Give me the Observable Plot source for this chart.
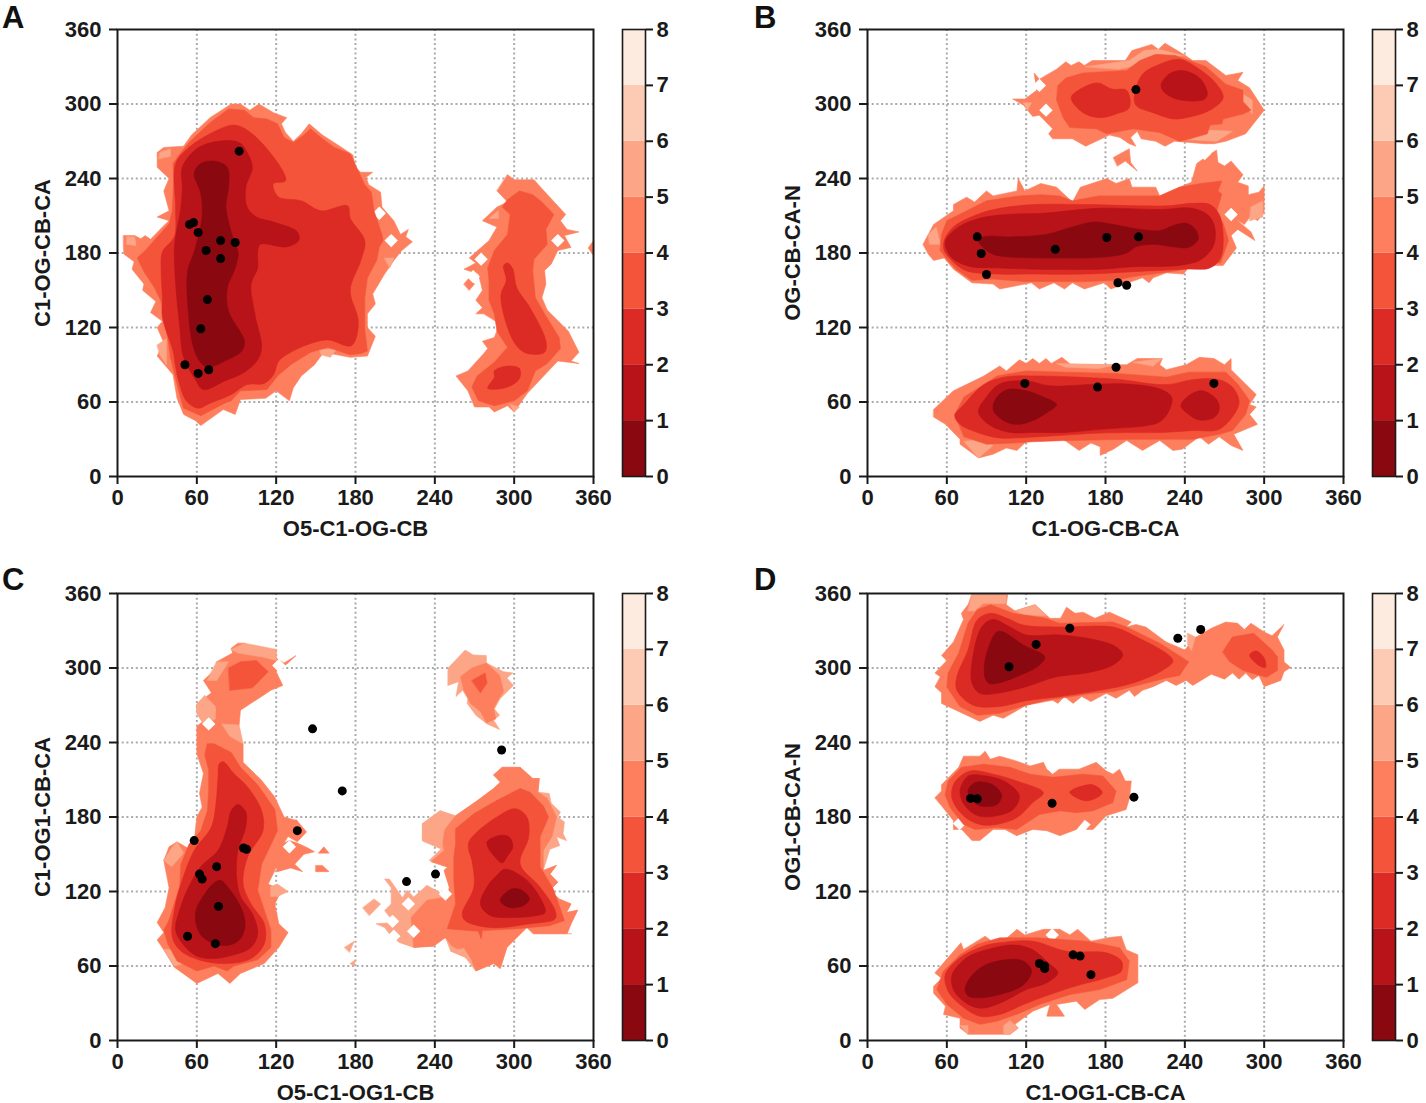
<!DOCTYPE html>
<html><head><meta charset="utf-8">
<script src="https://cdn.jsdelivr.net/npm/d3@7"></script>
<script src="https://cdn.jsdelivr.net/npm/@observablehq/plot@0.6"></script>
<style>
html,body{margin:0;background:#fff}
#page{position:relative;width:1426px;height:1103px;overflow:hidden}
.letter{position:absolute;font:bold 31px "Liberation Sans",Arial,sans-serif;color:#111;line-height:35px}
</style></head><body><div id="page"></div>
<script>
const angleTicks=[0,60,120,180,240,300,360];
const barTicks=[0,1,2,3,4,5,6,7,8];
const bandColors=["#8a0910","#b71318","#dc2a24","#f4553a","#fd7f5d","#fca587","#fdcab4","#feebe0"];

// Panel A
const A_L5=[
[[4.5,194],[13,194],[17.6,191.5],[21,194],[25,191],[34,201],[39,206],[30,209],[39,214],[35,230],[39,240],[30,249],[30,261],[35,265],[50,266],[56,275],[70,289],[86,300],[93,300],[100,295],[107,300],[118,293],[128,289],[124,284],[127,277],[133,270],[139,276],[145,284],[155,275],[171,264],[178,259],[180,249],[184,245],[193,245],[188,241],[190,235],[199,229],[200,217],[209,206],[214,195],[220,199],[218,193],[223,189],[215,182],[209,174],[202,163],[193,147],[195,139],[189,131],[189,120],[195,113],[189,97],[176,96],[156,100],[149,90],[139,81],[133,71.5],[130,61],[120,69],[112,63],[93,62],[89,50],[80,54],[63,41],[59,45],[50,50],[45,63],[42,82],[30,97],[35,108],[30,120],[34,125],[25,132],[29,141],[19,150],[20,155],[11,167],[12.6,173],[5,179],[4.5,184]],
[[295,243],[300,239],[315,239],[320,233],[339,211],[335,206],[340,199],[349,197],[338,194],[343,184.5],[333,182],[328,171],[323,166],[324,155],[321,144],[325,134],[341,117],[349,100],[343,93],[349,91],[333,93],[310,67],[300,52],[295,57],[285,52],[281,56],[270,56],[265,69],[256,81],[265,85],[277,99],[280,103],[276,109],[285,112],[289,123],[277,131],[271,131],[276,136],[271,142],[276,150],[273,163],[262,167],[271,172],[266,176],[281,190],[287,201],[276,206],[287,217],[295,221],[287,230]],
[[360,190],[356,184],[360,178]],[[262,155],[266,160],[270,155],[266,150]]];
const A_L6=[[[31,256],[32,261],[40,264],[40,258]],[[7,193],[13,193],[14,186],[7,187]],[[153,102],[166,103],[161,96],[154,98]],[[30,106],[37,111],[37,90],[32,98]],[[202,176],[209,176],[206,168]],[[281,208],[288,214],[288,208]],[[297,58],[304,56],[300,52]]];
const A_holes=[[275,175],[269,161],[333,190],[207,190],[198,212],[96,53]];
const A_L4=[
[[21,182],[39,203.5],[41.5,214],[42.5,238],[42,252],[48,261],[55,270],[70,285],[84,296],[96,295],[103,289],[113,288],[121,284],[126,273],[133,269],[141,275],[146,280],[155,272],[164,265],[176,260],[187,235],[192,229],[194,214],[200,195],[201,190],[198,185],[196,174],[189,160],[187,144],[187,131],[187,118],[189,101],[184,99],[176,98],[159,104],[146,100],[131,90],[121,81],[113,70],[93,69],[86,61],[81,59],[63,49],[50,55],[47,66],[44,79],[40,96],[38,112],[36,122],[33,141],[28,152],[20,165],[15,176]],
[[295,223],[304,230],[314,227],[321,221],[330,211],[324,199],[325,187],[315,175],[314,166],[316,144],[323,131],[334,112],[335,103],[325,91],[316,85],[310,69],[300,61],[285,57],[273,61],[268,72],[272,81],[285,92],[295,104],[287,117],[285,131],[281,142],[281,158],[280,168],[285,182],[295,195],[297,211],[291,217]]];
const A_L3=[
[[34,181],[43,193],[44,214],[44,252],[53,264],[70,276],[88,283],[98,279],[113,264],[126,244],[127,238],[118,236],[118,232],[122,225],[139,222],[154,214],[174,218],[176,208],[187,190],[184,174],[176,150],[182,126],[180,110],[176,105],[159,110],[143,106],[131,100],[122,93],[118,82],[111,75],[98,74],[86,66],[70,59],[61,55],[52,61],[47,74],[44,88],[42,101],[34,128],[34,144],[33,165]],
[[295,172],[299,167],[302,152],[312,136],[324,109],[323,100],[310,99],[302,105],[295,120],[290,146],[294,158],[292,170]],
[[295,89],[304,87],[304,79],[295,72],[280,71],[285,80],[285,85]]];
const A_L2=[[[49,249],[60,264],[76,270],[92,269],[98,261],[102,249],[97,233],[98,217],[105,209],[118,205],[136,197],[137,190],[128,185],[108,187],[106,181],[106,168],[101,155],[104,130],[109,104],[106,94],[96,84],[81,77],[65,70],[59,78],[50,96],[47,122],[44,155],[43,181],[44,193],[48,217],[49,233]]];
const A_L1=[[[58,244],[63,252],[73,254],[83,249],[84,233],[82,217],[88,190],[91,182],[91,176],[88,165],[83,152],[84,133],[96,109],[94,101],[83,94],[68,88],[62,93],[57,106],[54,128],[53,165],[58,181],[64,209],[63,228]]];
const A_dots=[[92,262],[54.5,203],[57.5,204.5],[61,196.5],[67,182],[78,190],[89,188.5],[78,175.5],[68,142.5],[63,119],[51,90],[61,83],[69,86]];

// Panel B
const B_L5=[
[[110,304],[119,304],[128,311],[126,325],[130,320],[143,328],[150,334],[154,331],[160,334],[164,331],[170,335],[195,335],[200,343],[215,348],[220,344],[225,349],[239,340],[246,335],[256,335],[271,323],[284,325.5],[280,319],[289,313],[300,295],[286,276],[271,270],[262,268],[255,268],[232,270],[225,266],[218,270],[207,272],[204,278],[199,273],[203,266],[198,268],[191,273],[183,275],[165,266],[155,272],[140,272],[137,276],[140,280],[130,291],[125,290],[118,299]],
[[42,187],[50,203],[65,214],[65,219],[75,225],[81,221],[90,230],[95,226],[113,230],[114,240],[119,230],[131,236],[143,233],[155,221],[161,233],[181,240],[188,236],[198,240],[200,233],[218,233],[221,226],[236,233],[245,237],[249,252],[254,256],[264,263],[265,253],[270,250],[275,254],[284,243],[280,237],[288,234],[288,227],[296,229],[300,234],[300,213],[295,206],[290,210],[285,203],[279,207],[290,197],[293,190],[280,199],[275,194],[279,184],[269,170],[244,170],[239,163],[226,164],[216,160],[213,156],[208,160],[197,156],[184,151],[179,156],[164,151],[155,156],[149,151],[141,156],[130,151],[124,156],[100,151],[95,155],[79,156],[65,167],[58,176],[50,174],[46,179]],
[[50,54],[65,69],[88,81],[100,89],[105,85],[115,94],[120,91],[125,95],[130,91],[135,95],[139,91],[147,96],[154,90],[183,90],[196,90],[204,95],[223,95],[221,90],[226,86],[241,90],[251,96],[262,95],[270,90],[275,95],[275,86],[294,66],[289,58],[294,56],[289,50],[295,42],[277,34],[284,21],[275,25],[266,32],[258,26],[251,32],[238,22],[231,21],[221,29],[208,21],[196,29],[186,22],[176,17],[176,24],[169,27],[160,21],[148,30],[140,29],[130,32],[119,27],[113,21],[105,23],[95,18],[84,15],[79,19],[70,26],[70,30],[59,42],[50,48]],
[[186,257],[198,264],[199,253],[204,246],[195,254],[189,250]]];
const B_L6=[[[46,195],[52,201],[55,187],[47,187]],[[290,217],[299,222],[299,209],[289,206]],[[118,301],[124,301],[121,295]],[[284,308],[291,303],[291,292],[284,300]],[[73,28],[84,15],[95,25],[85,30]],[[143,91],[188,90],[175,87],[150,88]],[[201,92],[223,95],[216,89]],[[165,330],[198,335],[209,343],[220,344],[239,339],[207,332],[190,328]],[[233,272],[256,279],[276,278],[264,270]]];
const B_holes=[[130,315],[135,295],[255,260],[275,211]];
const B_L4=[
[[144,315],[150,321],[163,325],[196,327],[206,335],[218,340],[233,339],[246,334],[256,330],[271,316],[284,311],[284,302],[290,295],[284,292],[269,288],[268,284],[259,283],[257,276],[244,272],[236,270],[221,277],[201,280],[181,276],[173,280],[153,281],[148,289],[143,303]],
[[56,195],[60,206],[75,214],[90,222],[115,226],[131,227],[145,226],[155,222],[175,226],[221,226],[236,233],[252,236],[268,238],[265,230],[268,227.6],[264,213],[269,204],[273,190],[267,172],[243,171],[236,166],[201,161],[188,158],[164,157],[119,157],[95,159],[79,158],[67,167],[60,175],[55,182]],
[[66,50],[73,64],[85,72],[98,81],[120,85],[150,84],[188,83],[226,80],[243,84],[271,84],[280,74.5],[289,61],[286,50],[276,37],[266,34],[246,30],[226,30],[201,30],[150,29],[125,28],[110,27],[90,26],[73,32]]];
const B_L3=[
[[154,305],[161,312],[174,317],[185,312],[196,311],[198,297],[188,292],[176,289],[163,293]],
[[202,308],[208,324],[221,332],[236,336],[251,328],[264,316],[269,305],[259,295],[241,289],[231,288],[216,293],[203,299]],
[[58,190],[65,201],[83,211],[100,216],[126,219],[166,219],[226,218],[246,220],[259,219],[266,211],[269,193],[267,176],[259,168],[241,167],[201,165],[164,163],[121,163],[100,163],[74,166],[62,176],[58,182]],
[[66,49],[73,58],[88,74],[103,80],[125,81],[186,78.5],[226,74],[246,78],[266,78],[276,72],[281,61],[279,53],[266,38],[246,37],[226,35.6],[176,35],[145,33],[120,31.5],[100,31],[83,35.5],[70,42]]];
const B_L2=[
[[222,315],[228,324],[238,327],[251,321],[257,309],[255,304],[238,303],[226,308]],
[[59,190],[69,201],[85,208],[105,211],[133,212],[175,216],[221,215],[246,216],[259,209],[263,198],[262,187],[258,180],[251,174],[236,170],[201,169],[176,167],[126,167],[100,168],[78,169],[65,175],[60,182]],
[[84,52],[90,64],[100,74.5],[120,77],[138,73],[176,74.5],[196,74.5],[221,70.5],[230,64],[228,53],[221,44],[211,41],[176,38],[150,35.5],[125,35.5],[108,35.5],[93,41]],
[[237,57],[243,65],[253,69],[264,62],[266,54],[262,47.5],[251,45.5],[243,50]]];
const B_L1=[
[[84,190],[88,193],[110,193],[135,195],[155,201],[171,205],[186,203],[206,199],[221,198],[231,202],[241,204],[248,199],[250,191],[243,184.6],[231,185],[216,187],[203,185],[196,180],[176,176.5],[143,176],[113,176.5],[95,179],[86,186]],
[[95,54],[98,64],[106,70],[120,69],[133,64],[143,58],[135,51],[125,45],[113,42],[103,45]]];
const B_dots=[[203,311.6],[83,193],[86,179.6],[90,162.7],[142,183],[181,192.5],[205,193],[189.4,156],[196,154],[119,75],[174,72],[188,88],[262,75]];

// Panel C
const C_L6base=[
[[250,300],[263,314.5],[269,310.5],[279,310],[279,304],[292,297],[299,296],[294.5,292],[299.5,286],[289.5,275.5],[285,267],[289,262],[284.5,258],[289,250.5],[279.5,255],[271,262],[264.5,271.5],[265,275.5],[261,282],[256,277],[258,289],[250,286]],
[[284.5,214],[291,220],[304.5,220],[314,211],[319,211],[318,200],[326.5,199],[328,191],[335,184],[333,180],[338,176],[337,166.5],[339.6,161],[332,164],[334.5,157],[327,154],[322,137],[332,141],[327,134],[333,127.5],[327,121],[334,114],[343,110],[339.5,103],[348,105],[343,94],[340,86],[343.6,86],[322,86],[314.6,86],[309.6,91],[294.5,75],[289.5,58],[284.5,62],[271,56],[263,67],[252,72],[248,83],[239,76],[224,75],[213,79],[205.6,86],[202,91],[195.5,94],[209,95],[202,104.6],[207,110],[207,123],[202,130],[205.6,130],[215.6,115],[219,121],[224,115.5],[234,125],[249.6,115.6],[251,123.5],[247,137],[249.6,139.6],[244,143.6],[235.6,145],[245,154.4],[230.6,161],[230.6,174.6],[244,185],[255.7,181],[272,193],[284.5,203],[289.5,208]],
[[185.5,107],[194,114],[199,110],[190.5,100.6]],
[[171.7,75],[179,80],[175.5,71]],[[176,62],[180,65],[179,60]]];
const C_L5=[
[[86,316],[91,320],[96,320],[102,314.5],[120,315],[120,308],[126,304],[135,310],[129,304],[120,297],[125,286],[116,282],[93,266],[92,254],[86,250],[95,239],[95,224],[108.6,210],[119,196],[126,180],[136,177],[126,159],[119,137],[114,126],[124,121],[119,110],[122,94],[129,87],[122,75],[111,62],[93,54],[85,46],[76,54],[60,46],[43,59],[35,73],[30,81],[35,87],[30,95],[36,107],[39,123],[35,145],[39,156],[45,160],[53,155],[58,161],[60,180],[64,188],[62,199],[65,215],[60,231],[60,253],[75,266],[60,266],[60,271],[71,280],[65,290],[75,300],[75,305],[87,312]],
[[259.5,293],[268,300],[279,304],[289,294],[292,281],[287,273],[284.5,267.5],[286,259],[279,256],[274.5,265],[267,271.5],[262,282]],
[[284.5,214],[291,220],[304.5,220],[314,211],[319,211],[318,200],[325,195],[332,180],[328.5,164],[322,153],[322,137],[332,141],[327,134],[333,127.5],[327,121],[334,114],[343,110],[339.5,103],[348,105],[343,94],[340,86],[322,86],[314.6,86],[309.6,91],[294.5,75],[289.5,58],[284.5,62],[271,56],[268,64],[263,71],[253,76],[248,83],[239,76],[224,75],[222,99],[234,113],[249.6,115.6],[251,123.5],[247,137],[249.6,139.6],[237,144],[247,153],[245,164],[248,170.6],[255.7,181],[272,193],[284.5,203],[289.5,208]],
[[126,159],[130,161],[136,159],[144,155],[149,152],[141,150],[134,142],[140,136],[131,139],[121,136],[119,142]],
[[152,151],[156,156],[160,151]],[[150,141],[155,141],[160,136],[150,136]],[[129,169],[135,178],[143,168],[136,160],[128,165]]];
const C_L6=[[[86,315],[96,320],[120,315],[120,306],[109,309],[91,312]],[[75,305],[84,305],[75,290],[68,290]],[[60,271],[66,278],[74,269],[74,259],[65,255],[60,263]],[[79,255],[92,254],[95,239],[85,245]],[[41,155],[45,160],[50,151],[41,140],[35,145]],[[116,124],[121,126],[129,120],[121,116],[116,116]],[[35,73],[43,60],[50,62],[43,73]],[[230.6,161],[230.6,174.6],[244,185],[254,181],[247,170],[245,154.4]],[[252,72],[263,67],[268,64],[262,74]]];
const C_holes=[[69,255],[130,156],[220,110],[224,88],[209,84],[248,118],[208,96],[122,302]];
const C_L4=[
[[84,300],[93,305],[105,306],[114,297],[102,284],[85,282]],
[[268,290],[278,296],[279.5,288],[274.5,280]],
[[68,239],[73,239],[86,232],[93,220],[106,206],[119,186],[121,169],[109,142],[106,121],[111,105],[116,89],[116,75],[106,65],[88,60],[83,56],[73,60],[60,56],[45,64],[38,78],[35,89],[39,97],[47,124],[48,142],[54,158],[63,169],[68,185],[69,202],[69,218],[66,230]],
[[255.7,170.6],[269.5,182.7],[287,193.4],[304.5,203],[312,200],[322,189],[326,180],[319.6,164],[319.6,140],[329.6,122],[338,96.6],[327,92.5],[302,90],[276,88.5],[275,82],[273,88],[249.4,90],[255.7,110],[254.4,129],[254.4,148],[255.7,158.4]]];
const C_L3=[
[[80,224.5],[88,215],[98.5,204],[109,185],[110,169],[98.5,148],[95,126],[101,110],[111,94],[111,78],[101,66],[83,62],[63,64.5],[48,72],[41.5,83],[43,105],[48,126],[58,153],[71,172],[74.5,191],[76,212],[77,223]],
[[265.7,159.8],[272,168],[287,180],[300.8,186.7],[309.6,180],[311,164],[304.5,142.3],[319.6,123.5],[331,104.6],[331,98],[312,94],[282,91],[263,96.5],[260.7,102],[269.5,123.5],[268,145],[265.7,153]]];
const C_L2=[
[[91,190],[97,184],[97,172],[91,153],[90,132],[93,116],[102,102],[106,86],[101,75],[88,69],[73,66],[60,68],[50,77],[44,89],[47,105],[54,124],[63,140],[76,153],[83,172],[86,185]],
[[279.5,160],[288,165],[296,164],[299,156],[294.5,148],[291,143],[284.5,149],[280,156]],
[[293,138],[309.6,129],[322,110],[323.4,103],[317,100.6],[294.5,99],[282,100.6],[274.5,110],[281,126],[287,133]]];
const C_L1=[
[[78,129],[83,124],[93,108],[96.5,94],[93,82],[85,77],[73,78],[63,85],[59,97],[60,107],[66,118],[72,126]],
[[289.5,113],[298,122],[305.8,121],[311.5,114],[307,108.7],[296,107.3]]];
const C_dots=[[147.5,251],[170,201],[290.5,234],[136,169],[58,161],[95.3,155],[97.6,154],[75,140],[62,134],[64,130],[76.4,108],[53,84],[74,78],[218.6,128],[240.5,134]];

// Panel D
const D_L5=[
[[79,359],[106,359],[105,351],[111.5,346],[126.6,351],[138,340],[146,340],[150.5,349],[157,344],[163,345],[172,340],[183,345],[199.5,337],[195.6,333],[203,335],[210.5,333],[225.8,321],[240,314.5],[247,324],[260,332],[271,337],[280,336],[285,331],[290,336],[300,329],[306,326],[315,335],[310,325],[315,314.5],[315,305],[320,300.5],[315,297],[312.6,290],[300,285],[296,294],[291,290.6],[286,296],[281,291],[276,296],[270,291],[260,295],[246,286],[241,290],[233.4,286],[226,290],[216,285],[208,282],[202,277],[198,282],[188,275.6],[180.6,279.6],[169,273],[162,277],[155.5,271.5],[149,277],[144,271.5],[140,274],[120,270],[102.7,259.5],[95,262],[85,257],[75,262],[56,271.5],[56,280],[51,285],[55,293],[51,296],[60,306],[56,310],[65,321],[72.6,339],[71,344],[76,351]],
[[51,195.6],[56,201],[56,206],[69,220],[72.6,229],[85,229],[89,233],[92.8,226.6],[100,229],[113,225],[123,221],[133,224],[135.6,218.5],[140,214.5],[145,218.5],[160,218.5],[173,224],[180.6,217],[185.6,214.5],[190.6,218.5],[195,209],[199.5,209],[198.2,195.6],[195.6,186],[180.6,181],[170.6,170],[165.5,170],[169,174],[164.3,178],[158,170],[145.5,165],[135.6,169],[125,170],[112.8,165],[104,170],[95,170],[85,161],[79,161],[71.3,170],[65,170],[65,177],[56,189]],
[[51,54.5],[70.7,78.7],[72.6,73.3],[89,84],[94,80],[105.6,82.7],[113,89.5],[119,85],[133,89.5],[145.5,89.5],[153,85],[159,89.5],[169,80],[183,83],[192,84],[195.7,73],[204.5,69],[204.5,46.5],[185.6,34],[175.6,33],[164.3,25],[158,31.7],[143,29],[149,19.6],[135.6,19.6],[138,29],[125,23.6],[111.5,13],[114,10],[107.8,5],[76.3,5],[70,10],[70,18],[57.5,21],[59,27.6],[50,38],[50,43.7],[56,50]]];
const D_L6=[[[79,359],[105,359],[105,352],[87.6,352],[81,346],[76,346]],[[112,346],[127,351],[135,342],[118,343]],[[242,328],[248,325],[245,314],[242,319]],[[103,12],[107.8,16],[114,10],[107.8,5],[103,5]],[[70,12],[76,12],[76,5]]];
const D_holes=[[139.7,85],[69.6,174.7]];
const D_L4=[
[[60,285],[61,296],[69,312],[76,336],[83,347],[93,351],[110,344],[135,340],[145,336],[185.6,337],[196,333],[221,320],[243,305],[236,294],[226,292],[186,281],[170.6,279.6],[135,274],[120,270],[100,263.5],[83,262],[70,269]],
[[268.6,313],[276,325],[292,328],[306,314.5],[310,309],[310,298],[301.6,292.5],[284,298],[274,305]],
[[58.7,198],[61,209],[71,220],[87.6,222.5],[107.7,220],[123,214.5],[140.5,212],[163,214.5],[178,213],[188,201],[185.6,191.6],[170.6,185],[158,183.5],[145.6,185],[130,182],[112.8,170],[97.7,171.5],[81.4,170],[72.6,174],[62.5,187.6]],
[[57.5,56],[70,69],[82.6,77.3],[100,82.7],[128,82.7],[165.5,80],[190.6,74.7],[198,64],[196,49],[175.6,41],[153,37],[130,29],[115,22],[97.7,15.5],[85,13],[72.6,18],[60,29],[52.5,41]]];
const D_L3=[
[[67.6,282],[67.6,293],[76,314.5],[83,338.7],[93,344],[105.6,340],[118,334.6],[145,333],[185.6,333],[200.7,326.6],[231,306],[223,298],[201,288],[175.6,282],[145.6,277],[120,273.6],[100,269],[80,270]],
[[289,310.5],[294,313.7],[300,308],[301,300.5],[296,302]],
[[63.8,195.6],[66,208],[77.6,217],[95,214.5],[112.8,209],[133,199.6],[125,191.6],[113,179.5],[97.7,174],[85,174],[72.6,181]],
[[153,200],[170,206],[177.6,199.6],[165.5,193]],
[[58.8,53],[70,66.7],[87.6,76],[100,78.7],[125,80],[150,72],[180.6,70.6],[192,64],[192,56],[180.6,50.5],[158,44],[138,37],[118,29],[100,21],[85,19.6],[70,29],[61,39.7]]];
const D_L2=[
[[79,288],[79,304],[86.4,333],[95,339],[107.7,333],[120,326.6],[145.5,326.6],[173,322.5],[188,317],[193,310.5],[185.6,302.4],[165.5,296],[143,293],[120,285],[97.7,279.6],[85,279.6]],
[[70,201],[76.3,213],[90,213],[105,208],[114.8,197],[110,186],[97.7,181],[83.7,181],[73.8,189]],
[[64,53],[75,66.7],[90,73],[110,77],[125,73],[136.6,62.6],[144,54.5],[135.6,46.5],[120,41],[100,30],[85,26],[72.6,31.7],[65,41]]];
const D_L1=[
[[89,291.7],[89,306.4],[97.7,329],[102.7,329],[117.8,318.5],[134,309],[130,302.4],[112.8,293],[97.7,287.6],[92,287.6]],
[[76,201],[81.4,207.7],[90,207.7],[97.7,203.7],[101.5,197],[97.7,190],[85,189],[79,194]],
[[73.8,41],[77.6,50.5],[87.6,60],[105,65],[117.8,64],[124,56],[118,45],[100,37],[85,34.4],[76.3,35.7]]];
const D_dots=[[107,301],[127.5,319],[153,332],[234.7,324],[252,331],[78,195],[83,194.6],[139.6,191],[201.5,196],[130,62],[134,58],[134,60],[155.5,69],[160.8,68],[169,53]];

const panels=[
 {name:"A",xLabel:"O5-C1-OG-CB",yLabel:"C1-OG-CB-CA",left:0,top:0,height:550,base:[],L5:A_L5,L6:A_L6,holes:A_holes,L4:A_L4,L3:A_L3,L2:A_L2,L1:A_L1,dots:A_dots},
 {name:"B",xLabel:"C1-OG-CB-CA",yLabel:"OG-CB-CA-N",left:750,top:0,height:550,base:[],L5:B_L5,L6:B_L6,holes:B_holes,L4:B_L4,L3:B_L3,L2:B_L2,L1:B_L1,dots:B_dots},
 {name:"C",xLabel:"O5-C1-OG1-CB",yLabel:"C1-OG1-CB-CA",left:0,top:564,height:539,base:C_L6base,L5:C_L5,L6:C_L6,holes:C_holes,L4:C_L4,L3:C_L3,L2:C_L2,L1:C_L1,dots:C_dots},
 {name:"D",xLabel:"C1-OG1-CB-CA",yLabel:"OG1-CB-CA-N",left:750,top:564,height:539,base:[],L5:D_L5,L6:D_L6,holes:D_holes,L4:D_L4,L3:D_L3,L2:D_L2,L1:D_L1,dots:D_dots}
];

const page=document.getElementById("page");
const font='"Liberation Sans",Arial,sans-serif';
const ink="#1a1a1a";
function rows(polys){return polys.flatMap((p,i)=>p.map(([x,y])=>({x,y,z:i})));}
function layer(polys,color,smooth){
  return Plot.line(rows(polys),{x:"x",y:"y",z:"z",fill:color,stroke:color,strokeWidth:0.6,curve:smooth?"catmull-rom-closed":"linear-closed"});
}
function place(svg,left,top){svg.style.position="absolute";svg.style.left=left+"px";svg.style.top=top+"px";svg.style.background="transparent";svg.style.overflow="visible";page.appendChild(svg);}

for(const p of panels){
  const mb=p.height-29-447;
  const svg=Plot.plot({
    width:620,height:p.height,marginLeft:117,marginRight:27,marginTop:29,marginBottom:mb,
    style:{fontFamily:font,fontWeight:"bold",fontSize:"22px",color:ink},
    x:{domain:[0,360]},y:{domain:[0,360]},
    marks:[
      Plot.gridX(angleTicks.slice(1,-1),{stroke:"#ababab",strokeOpacity:1,strokeWidth:2,strokeDasharray:"2 2.7"}),
      Plot.gridY(angleTicks.slice(1,-1),{stroke:"#ababab",strokeOpacity:1,strokeWidth:2,strokeDasharray:"2 2.7"}),
      layer(p.base,bandColors[5],false),
      layer(p.L5,bandColors[4],false),
      layer(p.L6,bandColors[5],false),
      Plot.dot(p.holes,{x:d=>d[0],y:d=>d[1],symbol:"diamond2",r:6,fill:"white",stroke:"none"}),
      layer(p.L4,bandColors[3],false),
      layer(p.L3,bandColors[2],true),
      layer(p.L2,bandColors[1],true),
      layer(p.L1,bandColors[0],true),
      Plot.dot(p.dots,{x:d=>d[0],y:d=>d[1],r:4.5,fill:"black",stroke:"none"}),
      Plot.frame({stroke:ink,strokeWidth:2}),
      Plot.axisX({ticks:angleTicks,tickSize:8,tickPadding:5,strokeWidth:2,stroke:ink,tickFormat:d=>d,label:p.xLabel,labelAnchor:"center",labelArrow:"none",labelOffset:59}),
      Plot.axisY({ticks:angleTicks,tickSize:8,tickPadding:8,strokeWidth:2,stroke:ink,tickFormat:d=>d,label:p.yLabel,labelAnchor:"center",labelArrow:"none",labelOffset:83})
    ]
  });
  place(svg,p.left,p.top);
  const bands=bandColors.map((color,i)=>({lo:barTicks[i],hi:barTicks[i+1],color}));
  const bar=Plot.plot({
    width:74,height:p.height,marginLeft:10,marginRight:41,marginTop:29,marginBottom:mb,
    style:{fontFamily:font,fontWeight:"bold",fontSize:"22px",color:ink},
    x:{domain:[0,1],axis:null},y:{domain:[0,8]},
    marks:[
      Plot.rect(bands,{x1:()=>0,x2:()=>1,y1:"lo",y2:"hi",fill:d=>d.color}),
      Plot.frame({stroke:ink,strokeWidth:1.6}),
      Plot.axisY({anchor:"right",ticks:barTicks,tickSize:7,tickPadding:4,strokeWidth:2,stroke:ink,tickFormat:d=>d,label:null})
    ]
  });
  place(bar,p.left+612,p.top);
  const t=document.createElement("div");
  t.className="letter";t.textContent=p.name;
  t.style.left=(p.left+(p.left?4:2))+"px";
  t.style.top=(p.top?p.top-2:0)+"px";
  page.appendChild(t);
}
</script></body></html>
